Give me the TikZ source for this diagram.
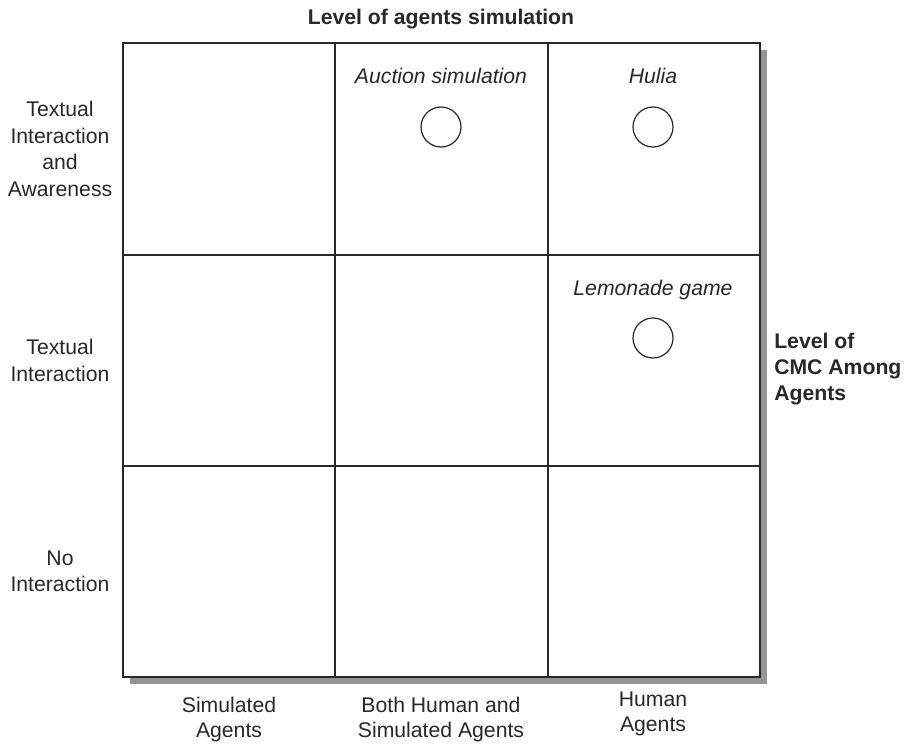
\documentclass[tikz,border=0pt]{standalone}
\usepackage{fontspec}
\setmainfont{Liberation Sans}
\usetikzlibrary{positioning}
\definecolor{gridcolor}{RGB}{40,40,40}
\definecolor{shadowcolor}{RGB}{148,148,150}

\begin{document}
\begin{tikzpicture}[x=0.75pt, y=-0.75pt,
    lbl/.style={font=\fontsize{15.9}{19.9}\selectfont, align=center, inner sep=0pt, text=gridcolor},
    collbl/.style={lbl, font=\fontsize{15.9}{18.6}\selectfont},
    boldlbl/.style={lbl, font=\fontsize{15.9}{19.6}\selectfont\bfseries},
    itlbl/.style={lbl, font=\fontsize{15.9}{19.9}\selectfont\itshape},
    case/.style={draw=gridcolor, circle, line width=0.9pt, minimum size=30pt, inner sep=0pt}]
    \useasboundingbox (0,0) rectangle (908,746);

    % Titre
    \node[boldlbl, anchor=base] (title) at (441,25) {Level of agents simulation};

    % Ombre et grille
    \fill[shadowcolor] (130,50) rectangle (767,684);
    \fill[white] (123,43) rectangle (760,677);
    \draw[gridcolor, line width=1pt] (123,43) rectangle (760,677);
    \draw[gridcolor, line width=1pt] (335,43) -- (335,677);
    \draw[gridcolor, line width=1pt] (548,43) -- (548,677);
    \draw[gridcolor, line width=1pt] (123,255) -- (760,255);
    \draw[gridcolor, line width=1pt] (123,466) -- (760,466);

    % Lignes (niveau de CMC)
    \node[lbl] (rowaware) at (60,149) {Textual\\Interaction\\and\\Awareness};
    \node[lbl] (rowtext) at (60,360.5) {Textual\\Interaction};
    \node[lbl] (rownone) at (60,571.5) {No\\Interaction};

    % Colonnes (agents)
    \node[collbl, anchor=north] (colsim) at (229,697) {Simulated\\Agents};
    \node[collbl, anchor=north] (colboth) at (441,697) {Both Human and\\Simulated Agents};
    \node[collbl, anchor=north] (colhuman) at (653,692) {Human\\Agents};

    % Axe vertical
    \node[boldlbl, align=left, anchor=north west] (cmc) at (774,333) {Level of\\CMC Among\\Agents};

    % Cas
    \node[itlbl, anchor=base] (auction) at (441,84) {Auction simulation};
    \node[case] (auctionpt) at (441,127) {};
    \node[itlbl, anchor=base] (hulia) at (653,84) {Hulia};
    \node[case] (huliapt) at (653,127) {};
    \node[itlbl, anchor=base] (lemonade) at (653,295) {Lemonade game};
    \node[case] (lemonadept) at (653,338) {};
\end{tikzpicture}
\end{document}
